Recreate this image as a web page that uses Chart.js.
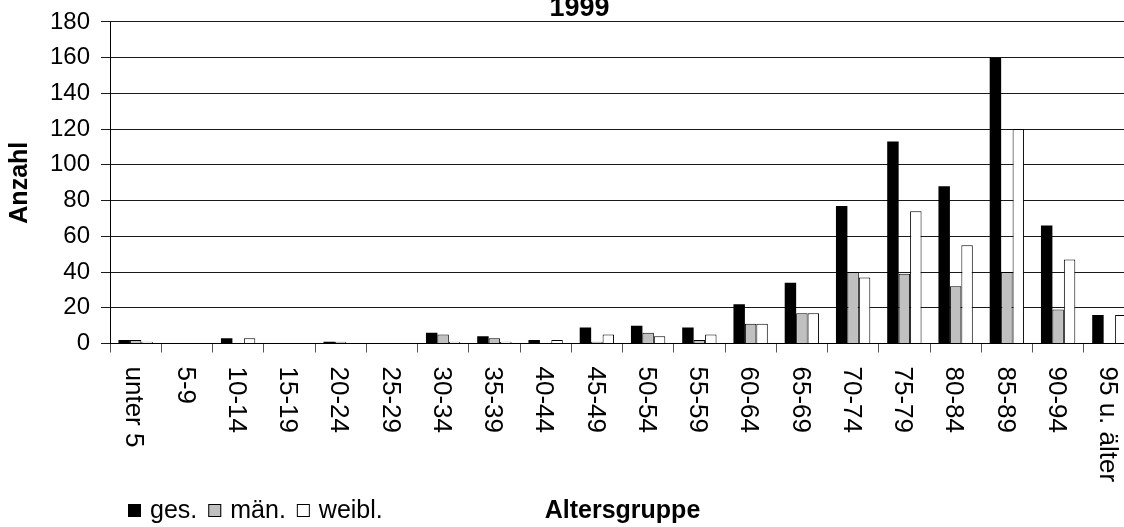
<!DOCTYPE html>
<html>
<head>
<meta charset="utf-8">
<script src="https://cdn.jsdelivr.net/npm/chart.js@4"></script>
<style>
  html, body { margin: 0; padding: 0; background: #fff; overflow: hidden; }
  body { width: 1124px; height: 527px; position: relative; }
  #chart { position: absolute; left: 0; top: -4px; }
</style>
</head>
<body>
<canvas id="chart" width="1159" height="531"></canvas>
<script>
// Altersgruppen und Anzahl (gesamt / männlich / weiblich), 1999
const altersgruppen = ['unter 5', '5-9', '10-14', '15-19', '20-24', '25-29', '30-34', '35-39', '40-44',
    '45-49', '50-54', '55-59', '60-64', '65-69', '70-74', '75-79', '80-84', '85-89', '90-94', '95 u. älter'];
const gesamt   = [2, 0, 3, 0, 1, 0, 6, 4, 2, 9, 10, 9, 22, 34, 77, 113, 88, 160, 66, 16];
const maennl   = [2, 0, 0, 0, 1, 0, 5, 3, 0, 1, 6, 2, 11, 17, 40, 39, 32, 40, 19, 0];
const weiblich = [1, 0, 3, 0, 0, 0, 1, 1, 2, 5, 4, 5, 11, 17, 37, 74, 55, 120, 47, 16];
const yTicks = [0, 20, 40, 60, 80, 100, 120, 140, 160, 180];

const FONT = "'Liberation Sans', Arial, sans-serif";
Chart.defaults.font.family = FONT;
Chart.defaults.color = '#000';

// Beschriftung der x-Achse: um 90° im Uhrzeigersinn gedreht
const xLabelsPlugin = {
    id: 'xLabels',
    afterDraw(chart) {
        const ctx = chart.ctx;
        const xs = chart.scales.x;
        ctx.save();
        ctx.font = '26px ' + FONT;
        ctx.fillStyle = '#000';
        ctx.textAlign = 'left';
        ctx.textBaseline = 'middle';
        chart.data.labels.forEach(function (lbl, i) {
            const x = xs.getPixelForValue(i);
            ctx.save();
            ctx.translate(x - 2, xs.top + 23);
            ctx.rotate(Math.PI / 2);
            ctx.fillText(lbl, 0, 0);
            ctx.restore();
        });
        ctx.restore();
    }
};

// Legende unten links, in einer Zeile mit dem Achsentitel
const legendPlugin = {
    id: 'legendRow',
    afterDraw(chart) {
        const ctx = chart.ctx;
        ctx.save();
        ctx.font = '25px ' + FONT;
        ctx.textAlign = 'left';
        ctx.textBaseline = 'alphabetic';
        let x = 128;
        const boxY = 508, box = 13, baseY = 522;
        chart.data.datasets.forEach(function (ds) {
            ctx.fillStyle = ds.backgroundColor;
            ctx.fillRect(x, boxY, box, box);
            ctx.strokeStyle = '#000';
            ctx.lineWidth = 1;
            ctx.strokeRect(x + 0.5, boxY + 0.5, box - 1, box - 1);
            x += box + 9;
            ctx.fillStyle = '#000';
            ctx.fillText(ds.label, x, baseY);
            x += ctx.measureText(ds.label).width + 11;
        });
        ctx.restore();
    }
};

new Chart(document.getElementById('chart'), {
    type: 'bar',
    data: {
        labels: altersgruppen,
        datasets: [
            { label: 'ges.', data: gesamt, backgroundColor: '#000000', borderWidth: 0 },
            { label: 'män.', data: maennl, backgroundColor: '#c0c0c0', borderColor: '#000', borderWidth: 1 },
            { label: 'weibl.', data: weiblich, backgroundColor: '#ffffff', borderColor: '#000', borderWidth: 1 }
        ]
    },
    options: {
        responsive: false,
        animation: false,
        layout: { padding: 0 },
        datasets: { bar: { categoryPercentage: 0.67, barPercentage: 1.0 } },
        plugins: {
            legend: { display: false },
            tooltip: { enabled: false },
            title: {
                display: true,
                text: '1999',
                font: { size: 27, weight: 'bold', lineHeight: 0.96 },
                padding: 0
            }
        },
        scales: {
            x: {
                grid: { display: true, drawOnChartArea: false, drawTicks: true, tickLength: 9, color: '#555', offset: true },
                border: { display: true, color: '#000', width: 1 },
                ticks: { display: false },
                title: {
                    display: true,
                    text: 'Altersgruppe',
                    font: { size: 25, weight: 'bold', lineHeight: 1.2 },
                    padding: { top: 0, bottom: 1 }
                },
                afterFit(scale) { scale.height = 183.5; }
            },
            y: {
                min: 0,
                max: 180,
                afterBuildTicks(scale) { scale.ticks = yTicks.map(v => ({ value: v })); },
                grid: { color: '#1a1a1a', lineWidth: 1, tickLength: 9 },
                border: { display: true, color: '#000', width: 1 },
                ticks: { font: { size: 24 }, padding: 11 },
                title: {
                    display: true,
                    text: 'Anzahl',
                    font: { size: 25, weight: 'bold', lineHeight: 1.2 },
                    padding: { top: 5, bottom: 0 }
                },
                afterFit(scale) { scale.width = 110; }
            },
            rand: {
                type: 'linear',
                position: 'right',
                display: true,
                grid: { display: false },
                border: { display: false },
                ticks: { display: false },
                afterFit(scale) { scale.width = 24; }
            }
        }
    },
    plugins: [xLabelsPlugin, legendPlugin]
});
</script>
</body>
</html>
